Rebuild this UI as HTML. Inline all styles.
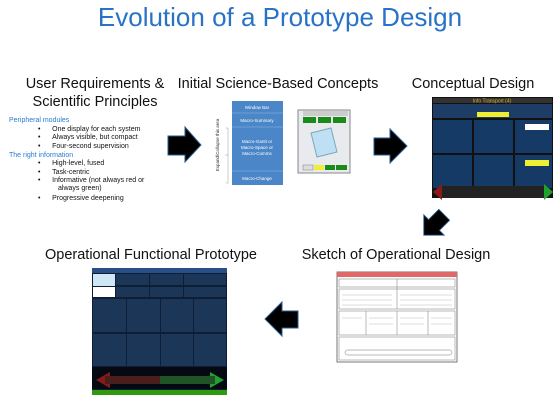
<!DOCTYPE html>
<html><head><meta charset="utf-8"><style>
*{margin:0;padding:0;box-sizing:border-box}
body{width:560px;height:407px;background:#fff;position:relative;overflow:hidden;font-family:"Liberation Sans",sans-serif}
.t{position:absolute;white-space:nowrap;color:#111}
.h{font-size:14.5px;text-align:center;transform:translateX(-50%)}
.s{font-size:7px}
.b{color:#2b7bd0}
</style></head><body>
<div class="t" style="left:280px;top:2px;transform:translateX(-50%);font-size:26px;color:#2872c8">Evolution of a Prototype Design</div>
<div class="t h" style="left:95px;top:76px">User Requirements &amp;</div>
<div class="t h" style="left:95px;top:94px">Scientific Principles</div>
<div class="t h" style="left:278px;top:76px">Initial Science-Based Concepts</div>
<div class="t h" style="left:473px;top:76px">Conceptual Design</div>
<div class="t h" style="left:151px;top:247px">Operational Functional Prototype</div>
<div class="t h" style="left:396px;top:247px">Sketch of Operational Design</div>

<div class="t s b" style="left:9px;top:117px">Peripheral modules</div>
<div class="t s" style="left:38px;top:126px">•&nbsp;&nbsp;&nbsp;&nbsp;&nbsp;&nbsp;One display for each system</div>
<div class="t s" style="left:38px;top:134px">•&nbsp;&nbsp;&nbsp;&nbsp;&nbsp;&nbsp;Always visible, but compact</div>
<div class="t s" style="left:38px;top:143px">•&nbsp;&nbsp;&nbsp;&nbsp;&nbsp;&nbsp;Four-second supervision</div>
<div class="t s b" style="left:9px;top:152px">The right information</div>
<div class="t s" style="left:38px;top:160px">•&nbsp;&nbsp;&nbsp;&nbsp;&nbsp;&nbsp;High-level, fused</div>
<div class="t s" style="left:38px;top:169px">•&nbsp;&nbsp;&nbsp;&nbsp;&nbsp;&nbsp;Task-centric</div>
<div class="t s" style="left:38px;top:177px">•&nbsp;&nbsp;&nbsp;&nbsp;&nbsp;&nbsp;Informative (not always red or</div>
<div class="t s" style="left:58px;top:185px">always green)</div>
<div class="t s" style="left:38px;top:195px">•&nbsp;&nbsp;&nbsp;&nbsp;&nbsp;&nbsp;Progressive deepening</div>

<svg width="560" height="407" style="position:absolute;left:0;top:0" font-family="Liberation Sans" >
<!-- arrows -->
<g fill="#000" stroke="#2a5b8f" stroke-width="1">
<polygon points="168,136 185,136 185,127 201,145 185,162 185,155 168,155"/>
<polygon points="374,138 390,138 390,129 407,146 390,163 390,155 374,155"/>
<polygon points="298,311 282,311 282,302 265,319 282,336 282,328 298,328"/>
<polygon transform="translate(434,225) rotate(135) scale(0.85)" points="-17,-9 0,-9 0,-17 17,0 0,17 0,9 -17,9"/>
</g>
<!-- blue block -->
<rect x="232" y="101" width="51" height="84" fill="#4a86c8"/>
<g stroke="#8fb4e0" stroke-width="0.6"><line x1="232" y1="113" x2="283" y2="113"/><line x1="232" y1="127" x2="283" y2="127"/><line x1="232" y1="171" x2="283" y2="171"/></g>
<g fill="#fff" font-size="4.5" text-anchor="middle">
<text x="257" y="109">Window Bar</text><text x="257" y="122">Macro-Summary</text>
<text x="257" y="143">Macro-Gantt or</text><text x="257" y="149">Macro-Space or</text><text x="257" y="155">Macro-Comms</text>
<text x="257" y="180">Macro-Change</text></g>
<text x="219" y="145" font-size="4.5" fill="#333" transform="rotate(-90 219 145)" text-anchor="middle">Expand/Collapse this area</text>
<path d="M226 128 L228 128 L228 183 L226 183 M228 155 L225 155" stroke="#999" fill="none" stroke-width="0.5"/>
<!-- concept sketch -->
<rect x="298" y="110" width="52" height="63" fill="#e8eaee" stroke="#888"/>
<rect x="303" y="111" width="45" height="5" fill="#ccc"/>
<rect x="303" y="117" width="13" height="6" fill="#1a8a1a"/><rect x="318" y="117" width="13" height="6" fill="#1a8a1a"/><rect x="333" y="117" width="13" height="6" fill="#1a8a1a"/>
<polygon points="311,133 331,128 337,152 317,157" fill="#bfe0f4" stroke="#7ab"/>
<rect x="303" y="165" width="10" height="5" fill="#ddd" stroke="#666" stroke-width="0.4"/><rect x="314" y="165" width="10" height="5" fill="#ee3"/><rect x="325" y="165" width="10" height="5" fill="#1a8a1a"/><rect x="336" y="165" width="11" height="5" fill="#1a8a1a"/>
<!-- conceptual design -->
<rect x="432" y="97" width="121" height="101" fill="#111"/>
<rect x="433" y="98" width="119" height="5" fill="#333"/>
<text x="492" y="102.5" font-size="5" fill="#d8b030" text-anchor="middle">Info Transport (4)</text>
<rect x="433" y="104" width="119" height="14" fill="#1d3d66"/>
<rect x="477" y="112" width="32" height="5" fill="#ee3"/>
<rect x="433" y="120" width="39" height="33" fill="#163a66"/><rect x="474" y="120" width="39" height="33" fill="#163a66"/><rect x="515" y="120" width="37" height="33" fill="#163a66"/>
<rect x="433" y="155" width="39" height="33" fill="#163a66"/><rect x="474" y="155" width="39" height="33" fill="#163a66"/><rect x="515" y="155" width="37" height="33" fill="#163a66"/>
<rect x="525" y="124" width="24" height="6" fill="#fff"/><rect x="525" y="160" width="24" height="6" fill="#ee3"/>
<polygon points="433,192 440,186 540,186 540,186 547,186 553,192 547,198 440,198" fill="#222"/>
<polygon points="433,192 442,184 442,200" fill="#8a1a1a"/><polygon points="553,192 544,184 544,200" fill="#1fa02f"/>
<!-- prototype -->
<rect x="92" y="268" width="135" height="127" fill="#0d1e36"/>
<rect x="92" y="268" width="135" height="5" fill="#2a4f86"/>
<rect x="93" y="274" width="22" height="12" fill="#cfe6f5"/><rect x="93" y="287" width="22" height="10" fill="#fff"/>
<g fill="#1c3658">
<rect x="116" y="274" width="33" height="11"/><rect x="150" y="274" width="33" height="11"/><rect x="184" y="274" width="42" height="11"/>
<rect x="116" y="287" width="33" height="10"/><rect x="150" y="287" width="33" height="10"/><rect x="184" y="287" width="42" height="10"/>
<rect x="93" y="299" width="33" height="33"/><rect x="127" y="299" width="33" height="33"/><rect x="161" y="299" width="32" height="33"/><rect x="194" y="299" width="32" height="33"/>
<rect x="93" y="334" width="33" height="32"/><rect x="127" y="334" width="33" height="32"/><rect x="161" y="334" width="32" height="32"/><rect x="194" y="334" width="32" height="32"/>
</g>
<rect x="92" y="367" width="135" height="22" fill="#050a12"/>
<polygon points="96,380 110,372 110,376 160,376 160,384 110,384 110,388" fill="#8a1a1a"/>
<polygon points="224,380 210,372 210,376 160,376 160,384 210,384 210,388" fill="#1fa02f"/>
<rect x="105" y="376" width="110" height="8" fill="#222" opacity="0.6"/>
<rect x="92" y="390" width="135" height="5" fill="#2f9a10"/>
<!-- sketch op design -->
<rect x="337" y="272" width="120" height="90" fill="#fff" stroke="#555" stroke-width="0.8"/>
<rect x="337" y="272" width="120" height="5" fill="#e06868"/>
<g fill="none" stroke="#777" stroke-width="0.5">
<rect x="339" y="279" width="116" height="8"/><rect x="339" y="289" width="116" height="20"/><rect x="339" y="311" width="116" height="24"/><rect x="339" y="337" width="116" height="23"/>
<line x1="397" y1="279" x2="397" y2="309"/><line x1="366" y1="311" x2="366" y2="335"/><line x1="397" y1="311" x2="397" y2="335"/><line x1="428" y1="311" x2="428" y2="335"/>
<rect x="345" y="350" width="107" height="5" rx="2.5"/>
</g>
<g stroke="#bbb" stroke-width="0.6">
<line x1="342" y1="295" x2="392" y2="295"/><line x1="342" y1="300" x2="392" y2="300"/><line x1="342" y1="305" x2="392" y2="305"/>
<line x1="400" y1="295" x2="452" y2="295"/><line x1="400" y1="300" x2="452" y2="300"/><line x1="400" y1="305" x2="452" y2="305"/>
<line x1="342" y1="318" x2="362" y2="318"/><line x1="369" y1="318" x2="393" y2="318"/><line x1="369" y1="324" x2="393" y2="324"/><line x1="400" y1="318" x2="424" y2="318"/><line x1="400" y1="324" x2="424" y2="324"/><line x1="431" y1="318" x2="452" y2="318"/><line x1="431" y1="324" x2="452" y2="324"/>
</g>
</svg>
</body></html>
